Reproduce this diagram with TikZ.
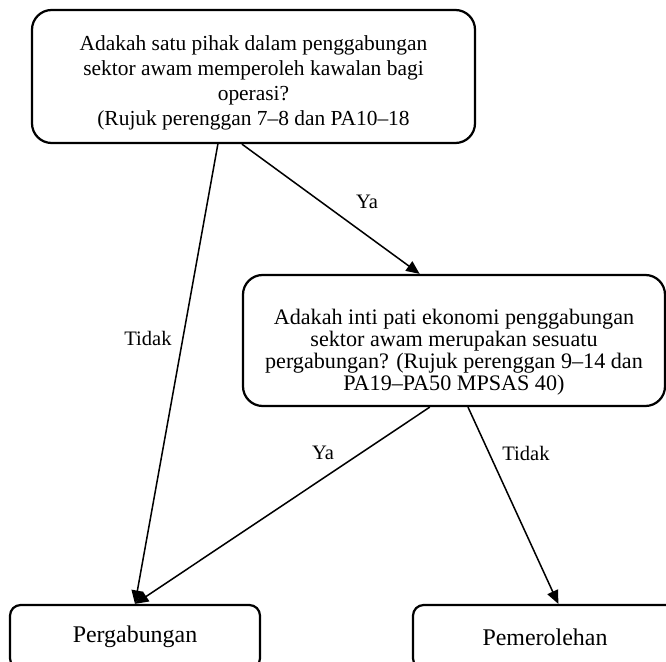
\documentclass[tikz,border=0pt]{standalone}
\usepackage{fontspec}
\setmainfont{Liberation Serif}
\usetikzlibrary{arrows.meta,calc}
\begin{document}
\begin{tikzpicture}[x=0.56pt,y=-0.56pt,
  box/.style={draw, line width=1.25pt, rounded corners=11pt, inner sep=0pt},
  endbox/.style={draw, line width=1.25pt, rounded corners=6pt, inner sep=0pt,
    font=\fontsize{13.4}{15}\selectfont},
  qtext/.style={align=center, inner sep=0pt},
  link/.style={line width=0.85pt, -{Triangle[length=7.5pt,width=6.5pt]}},
  lbl/.style={font=\fontsize{11.5}{13}\selectfont, inner sep=0pt}]
\useasboundingbox (0,0) rectangle (666,662);
\clip (0,0) rectangle (666,662);

% decision boxes
\node[box, minimum width=443*0.56pt, minimum height=133*0.56pt] (q1) at (253.5,76.5) {};
\node[qtext, font=\fontsize{12}{14}\selectfont] (q1t) at (253.5,83)
  {Adakah satu pihak dalam penggabungan\\sektor awam memperoleh kawalan bagi\\operasi?\\(Rujuk perenggan 7–8 dan PA10–18};

\node[box, minimum width=422*0.56pt, minimum height=131*0.56pt] (q2) at (454,340.5) {};
\node[qtext, font=\fontsize{12.4}{12.4}\selectfont] (q2t) at (454,352)
  {Adakah inti pati ekonomi penggabungan\\sektor awam merupakan sesuatu\\pergabungan? (Rujuk perenggan 9–14 dan\\PA19–PA50 MPSAS 40)};

% outcomes
\node[endbox, minimum width=250*0.56pt, minimum height=64*0.56pt] (a) at (135,637) {Pergabungan};
\node[endbox, minimum width=264*0.56pt, minimum height=64*0.56pt] (b) at (545,637) {Pemerolehan};

% connectors
\draw[link] ($(q1.south west)!0.42!(q1.south east)$) -- (a.north);
\draw[link] ($(q1.south west)!0.474!(q1.south east)$) -- ($(q2.north west)!0.419!(q2.north east)$);
\draw[link] ($(q2.south west)!0.443!(q2.south east)$) -- (a.north);
\draw[link] ($(q2.south west)!0.533!(q2.south east)$) -- ($(b.north west)!0.55!(b.north east)$);

% connector labels
\node[lbl] (l1) at (367,202) {Ya};
\node[lbl] (l2) at (148,338) {Tidak};
\node[lbl] (l3) at (323,453) {Ya};
\node[lbl] (l4) at (526,453) {Tidak};
\end{tikzpicture}
\end{document}
